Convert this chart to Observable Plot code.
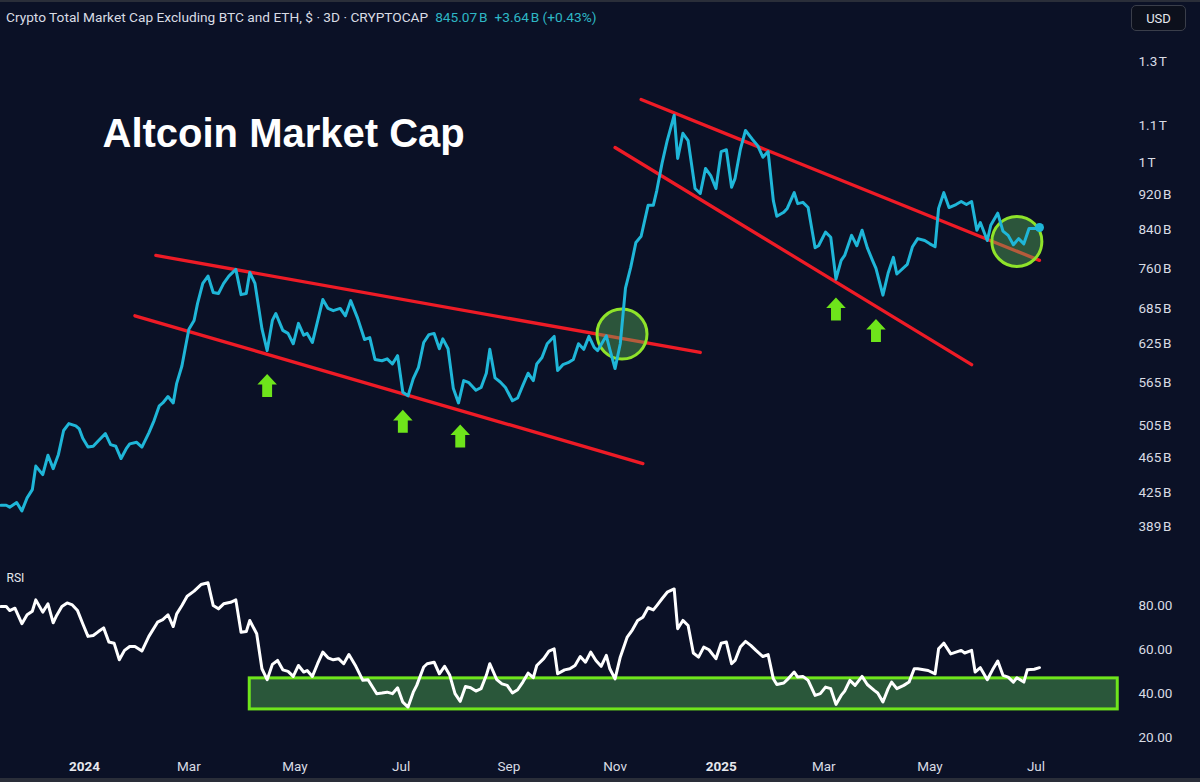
<!DOCTYPE html>
<html>
<head>
<meta charset="utf-8">
<script src="https://cdn.jsdelivr.net/npm/d3@7"></script>
<script src="https://cdn.jsdelivr.net/npm/@observablehq/plot@0.6"></script>
<style>
html,body{margin:0;padding:0;background:#0b1126;width:1200px;height:782px;overflow:hidden;}
#wrap{position:relative;width:1200px;height:782px;}
#header{position:absolute;left:6px;top:8px;font:13.7px Roboto, sans-serif;color:#d9dce4;white-space:nowrap;line-height:18px;}
#header .val{color:#2eb7c5;margin-left:7px;}
#usd{position:absolute;left:1131px;top:5px;width:55px;height:26px;border:1px solid #3a3e4a;border-radius:5px;background:#0c101c;color:#e6e8ee;font:13px Roboto, sans-serif;display:flex;align-items:center;justify-content:center;box-sizing:border-box;}
#topline{position:absolute;left:0;top:0;width:1200px;height:2px;background:#2a2e39;}
#botline{position:absolute;left:0;bottom:0;width:1200px;height:4px;background:#2a2e39;}
svg{display:block;}
</style>
</head>
<body>
<div id="wrap">
  <div id="charts"></div>
  <div id="topline"></div>
  <div id="header"></div>
  <div id="usd">USD</div>
  <div id="botline"></div>
</div>
<script>
// ---------- DATA ----------
const headerText = "Crypto Total Market Cap Excluding BTC and ETH, $ \u00b7 3D \u00b7 CRYPTOCAP";
const headerValues = ["845.07\u202FB", "+3.64\u202FB (+0.43%)"];
const chartTitle = "Altcoin Market Cap";

// time is counted in days since this date
const epochDate = "2024-01-01";

// price (billions USD), 3D closes
const priceDay = [
  -48,-45,-43,-39,-36,-33,-30,-28,-24,-21,
  -18,-15,-12,-9,-5,-3,-1,2,5,8,
  12,15,18,21,24,26,30,33,37,40,
  43,45,48,51,53,56,58,60,63,65,
  68,71,74,77,80,83,87,90,93,95,
  98,102,105,108,110,114,117,120,123,126,
  128,131,137,140,143,147,150,153,157,161,
  164,167,171,174,177,180,183,186,189,192,
  195,198,201,204,206,209,212,215,218,221,
  225,228,231,233,236,239,242,246,249,252,
  255,258,260,263,266,270,272,275,278,281,
  284,287,290,293,295,300,302,305,308,311,
  314,317,320,324,327,329,332,335,339,341,
  344,347,351,354,357,360,363,366,369,372,
  374,377,380,384,387,390,393,396,398,402,
  404,408,410,413,416,420,422,426,429,432,
  435,437,441,444,447,450,453,455,459,462,
  465,467,473,476,479,483,486,489,491,494,
  497,501,504,507,510,513,515,519,521,525,
  528,531,534,537,540,543,547,549
];
const priceValue = [
  411,411,409,414,405,419,428,455,445,468,
  452,469,499,508,505,501,489,478,479,486,
  495,481,479,464,476,482,484,478,496,512,
  532,536,545,536,564,590,619,649,664,694,
  731,745,714,712,731,745,758,710,712,752,
  731,650,614,664,676,647,642,625,659,639,
  642,627,701,685,681,685,672,699,668,632,
  635,600,598,601,593,606,551,546,571,588,
  627,640,642,617,633,617,557,536,568,565,
  554,558,579,616,572,566,558,539,543,561,
  579,568,593,603,625,637,583,592,595,600,
  625,616,637,619,614,638,616,586,625,722,
  762,813,826,895,895,930,998,1059,1131,1011,
  1079,1059,935,923,985,967,935,1029,1034,938,
  960,1034,1087,1062,1045,1014,1029,906,870,879,
  888,925,899,902,890,802,806,835,824,739,
  776,786,828,806,839,802,776,760,709,751,
  782,749,768,804,821,817,810,804,888,925,
  890,897,904,897,904,839,856,817,850,877,
  837,828,808,821,810,843,843,845
];

// RSI
const rsiDay = [
  -48,-45,-43,-40,-36,-33,-30,-28,-24,-21,
  -18,-16,-13,-10,-7,-4,-1,2,5,8,
  11,14,17,20,23,26,29,33,37,42,
  45,48,51,53,56,59,63,67,71,74,
  77,80,84,87,90,93,95,99,102,105,
  108,111,114,117,120,123,126,128,131,134,
  137,140,143,146,149,152,156,160,163,168,
  171,174,177,180,183,186,189,191,195,197,
  201,204,207,210,213,216,219,222,225,228,
  231,233,237,240,243,246,249,252,255,258,
  260,264,267,270,272,276,279,282,285,288,
  291,294,297,300,302,305,308,312,315,318,
  321,324,327,329,332,335,339,341,344,347,
  350,353,356,359,363,366,369,372,374,377,
  380,383,386,390,393,396,398,402,404,408,
  410,413,416,420,423,426,429,432,435,437,
  440,443,447,450,454,456,459,462,464,467,
  471,474,477,479,485,489,491,494,498,501,
  504,506,510,512,515,519,522,525,528,531,
  534,536,540,542,546,549
];
const rsiValue = [
  79.8,79.8,77.9,79.0,71.9,76.0,77.6,82.8,77.2,81.0,
  72.3,75.7,79.8,81.4,80.5,77.9,71.9,66.1,66.5,68.3,
  70.0,63.5,63.0,55.4,59.7,61.5,61.5,59.4,66.1,72.6,
  73.8,76.0,70.6,76.4,80.2,84.5,86.8,89.8,90.6,80.2,
  78.7,81.0,81.7,82.8,68.0,68.3,73.4,67.3,51.3,46.3,
  53.3,55.1,50.8,50.1,47.8,52.8,49.8,50.5,47.8,53.6,
  58.9,56.3,55.4,55.9,53.6,57.8,52.4,46.0,46.3,39.9,
  40.2,40.6,39.9,42.6,36.0,33.8,40.6,43.7,52.1,53.6,
  54.3,49.0,52.4,48.3,39.9,36.4,43.2,42.6,41.1,42.2,
  48.3,53.6,46.3,44.4,43.7,40.2,41.7,45.2,49.3,47.2,
  52.8,55.9,59.4,60.4,49.0,50.8,51.3,52.8,56.9,54.3,
  58.9,55.1,52.4,57.4,51.3,46.7,56.6,65.8,69.1,73.4,
  74.9,79.2,78.2,80.2,83.3,86.3,87.8,69.6,73.4,71.1,
  58.5,56.6,61.2,60.0,55.9,63.0,63.5,53.6,55.1,61.2,
  63.8,62.0,59.7,56.9,57.8,46.7,44.1,44.8,46.3,49.8,
  47.5,47.8,46.0,39.1,39.9,42.9,42.2,35.0,39.1,41.1,
  46.0,43.7,47.8,44.1,41.4,40.2,36.1,42.2,45.2,42.2,
  43.7,45.2,51.3,51.3,50.5,49.0,60.4,63.0,58.1,58.9,
  59.7,58.5,59.7,49.8,51.8,46.3,50.8,54.8,48.3,47.5,
  45.2,47.2,45.2,50.8,51.1,51.8
];

// annotations
const trendStartDay   = [41, 29, 320, 305];
const trendStartValue = [786, 672, 1178, 1040];
const trendEndDay     = [354, 321, 549, 510];
const trendEndValue   = [611, 458, 776, 592];
const circleDay   = [309, 536];
const circleValue = [641, 815];
const arrowDay   = [105, 183, 216, 432, 455];
const arrowValue = [561, 511, 492, 684, 647];
const rsiZoneDays   = [95, 594];
const rsiZoneLevels = [32.7, 46.9];

// axes
const priceTicks = [1300, 1100, 1000, 920, 840, 760, 685, 625, 565, 505, 465, 425, 389];
const priceTickLabels = ["1.3\u202FT","1.1\u202FT","1\u202FT","920\u202FB","840\u202FB","760\u202FB","685\u202FB","625\u202FB","565\u202FB","505\u202FB","465\u202FB","425\u202FB","389\u202FB"];
const rsiTicks = [80, 60, 40, 20];
const rsiTickLabels = ["80.00","60.00","40.00","20.00"];
const timeTickDates  = ["2024-01-01","2024-03-01","2024-05-01","2024-07-01","2024-09-01","2024-11-01","2025-01-01","2025-03-01","2025-05-01","2025-07-01"];
const timeTickLabels = ["2024","Mar","May","Jul","Sep","Nov","2025","Mar","May","Jul"];
const timeTickIsYear = [true,false,false,false,false,false,true,false,false,false];

// ---------- BUILD ----------
const epoch = new Date(epochDate + "T00:00:00Z").getTime();
const toDate = d => new Date(epoch + d * 864e5);

const price = priceDay.map((d, i) => ({date: toDate(d), value: priceValue[i]}));
const rsi = rsiDay.map((d, i) => ({date: toDate(d), value: rsiValue[i]}));
const trends = trendStartDay.map((d, i) => ({x1: toDate(d), y1: trendStartValue[i], x2: toDate(trendEndDay[i]), y2: trendEndValue[i]}));
const circles = circleDay.map((d, i) => ({date: toDate(d), value: circleValue[i]}));
const arrows = arrowDay.map((d, i) => ({date: toDate(d), value: arrowValue[i]}));
const zone = [{x1: toDate(rsiZoneDays[0]), x2: toDate(rsiZoneDays[1]), y1: rsiZoneLevels[0], y2: rsiZoneLevels[1]}];
const ticks = timeTickDates.map((s, i) => ({date: new Date(s + "T00:00:00Z"), label: timeTickLabels[i], year: timeTickIsYear[i]}));

const arrowSymbol = {
  draw(ctx, size) {
    const r = Math.sqrt(size / Math.PI);
    ctx.moveTo(0, -r);
    ctx.lineTo(0.85 * r, -0.08 * r);
    ctx.lineTo(0.43 * r, -0.08 * r);
    ctx.lineTo(0.43 * r, r);
    ctx.lineTo(-0.43 * r, r);
    ctx.lineTo(-0.43 * r, -0.08 * r);
    ctx.lineTo(-0.85 * r, -0.08 * r);
    ctx.closePath();
  }
};

const xScale = {type: "utc", domain: [toDate(0), toDate(547)], range: [84, 1035.5], axis: null};
const style = {background: "transparent", color: "#d9dce4", fontFamily: "Roboto, sans-serif", fontSize: "13px"};

const pricePlot = Plot.plot({
  width: 1200, height: 560,
  marginTop: 0, marginLeft: 0, marginBottom: 0, marginRight: 70,
  style,
  x: xScale,
  y: {type: "log", domain: [389, 1300], range: [526, 61], axis: null},
  marks: [
    Plot.axisY({ticks: priceTicks, anchor: "right", tickSize: 0, tickPadding: 8,
      tickFormat: d => priceTickLabels[priceTicks.indexOf(d)], fontSize: 13.5}),
    Plot.text([chartTitle], {frameAnchor: "top-left", dx: 102, dy: 134, text: d => d,
      textAnchor: "start", lineAnchor: "middle", fontSize: 40, fontWeight: "bold",
      fill: "#ffffff", fontFamily: "'Liberation Sans', Arial, sans-serif"}),
    Plot.link(trends, {x1: "x1", y1: "y1", x2: "x2", y2: "y2", stroke: "#ee1b26", strokeWidth: 3.3, strokeLinecap: "round"}),
    Plot.dot(arrows, {x: "date", y: "value", r: 11.5, symbol: arrowSymbol, fill: "#6ee41b", stroke: "none"}),
    Plot.dot(circles, {x: "date", y: "value", r: 25, fill: "#60bb5d", fillOpacity: 0.4, stroke: "#8fe32a", strokeWidth: 3}),
    Plot.line(price, {x: "date", y: "value", stroke: "#1fb6d8", strokeWidth: 3, strokeLinejoin: "round"}),
    Plot.dot(price.slice(-1), {x: "date", y: "value", r: 4.5, fill: "#1fb6d8"})
  ]
});

const rsiPlot = Plot.plot({
  width: 1200, height: 222,
  marginTop: 0, marginLeft: 0, marginBottom: 0, marginRight: 70,
  style,
  x: xScale,
  y: {domain: [20, 80], range: [176.7, 45.5], axis: null},
  marks: [
    Plot.rect(zone, {x1: "x1", x2: "x2", y1: "y1", y2: "y2", fill: "#2a573a", stroke: "#6fe51c", strokeWidth: 3}),
    Plot.line(rsi, {x: "date", y: "value", stroke: "#ffffff", strokeWidth: 3, strokeLinejoin: "round"}),
    Plot.axisY({ticks: rsiTicks, anchor: "right", tickSize: 0, tickPadding: 8,
      tickFormat: d => rsiTickLabels[rsiTicks.indexOf(d)], fontSize: 13.5}),
    Plot.text(ticks.filter(t => !t.year), {x: "date", text: "label", frameAnchor: "bottom", dy: -12, fontSize: 13.5, fill: "#d9dce4"}),
    Plot.text(ticks.filter(t => t.year), {x: "date", text: "label", frameAnchor: "bottom", dy: -12, fontSize: 13.5, fontWeight: "bold", fill: "#e6e8ee"}),
    Plot.text(["RSI"], {frameAnchor: "top-left", dx: 6, dy: 18, text: d => d, textAnchor: "start", lineAnchor: "middle", fontSize: 12, fill: "#e6e8ee"})
  ]
});

document.getElementById("charts").append(pricePlot, rsiPlot);

const header = document.getElementById("header");
header.textContent = headerText;
headerValues.forEach(v => {
  const s = document.createElement("span");
  s.className = "val";
  s.textContent = v;
  header.append(s);
});
</script>
</body>
</html>
